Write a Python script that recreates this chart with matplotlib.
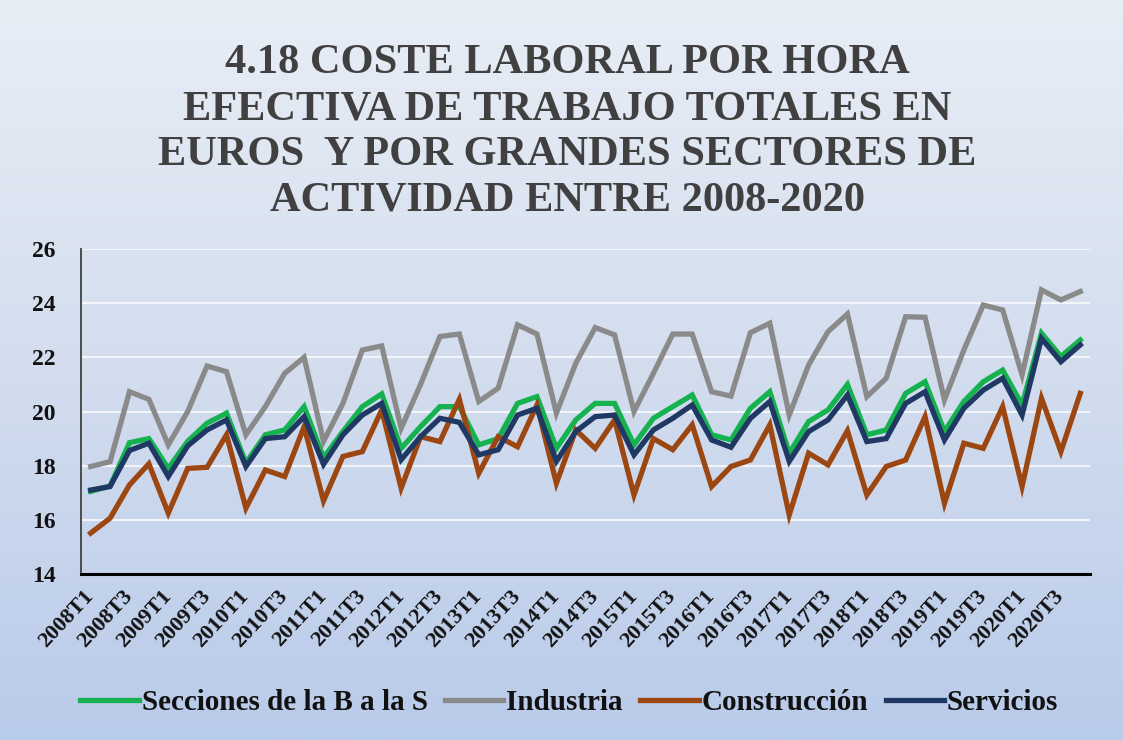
import numpy as np
import matplotlib
matplotlib.use("Agg")
import matplotlib.pyplot as plt
from matplotlib.colors import LinearSegmentedColormap

# quarters 2008T1 .. 2020T4
quarters = [f"{y}T{q}" for y in range(2008, 2021) for q in range(1, 5)]

secciones = [17.05, 17.25, 18.85, 19.0, 17.9, 18.9, 19.57, 19.94, 18.1, 19.14, 19.32, 20.18,
             18.3, 19.26, 20.18, 20.65, 18.64, 19.44, 20.18, 20.18, 18.77, 19.0, 20.3, 20.55,
             18.64, 19.69, 20.3, 20.3, 18.77, 19.75, 20.18, 20.61, 19.14, 18.95, 20.12, 20.73,
             18.46, 19.63, 20.06, 21.0, 19.14, 19.32, 20.67, 21.1, 19.26, 20.37, 21.1, 21.53,
             20.24, 22.89, 22.03, 22.64]
industria = [17.97, 18.15, 20.73, 20.45, 18.77, 20.0, 21.68, 21.47, 19.14, 20.18, 21.41, 22.0,
             18.9, 20.3, 22.27, 22.42, 19.38, 21.0, 22.77, 22.86, 20.37, 20.86, 23.2, 22.86,
             19.94, 21.78, 23.1, 22.83, 20.0, 21.41, 22.86, 22.86, 20.73, 20.57, 22.91, 23.26,
             19.87, 21.72, 22.95, 23.6, 20.55, 21.23, 23.5, 23.48, 20.43, 22.27, 23.93, 23.75,
             21.35, 24.49, 24.12, 24.43]
construccion = [15.51, 16.06, 17.29, 18.07, 16.25, 17.9, 17.94, 19.14, 16.43, 17.84, 17.6, 19.44,
                16.7, 18.34, 18.52, 20.06, 17.17, 19.07, 18.89, 20.45, 17.72, 19.07, 18.7, 20.24,
                17.35, 19.32, 18.64, 19.69, 16.92, 19.0, 18.59, 19.51, 17.23, 17.97, 18.21, 19.51,
                16.18, 18.46, 18.03, 19.29, 16.92, 17.97, 18.21, 19.81, 16.61, 18.83, 18.64, 20.18,
                17.23, 20.49, 18.52, 20.67]
servicios = [17.1, 17.23, 18.56, 18.83, 17.6, 18.73, 19.32, 19.69, 17.97, 19.0, 19.07, 19.81,
             18.05, 19.14, 19.87, 20.3, 18.22, 19.07, 19.75, 19.6, 18.4, 18.59, 19.87, 20.12,
             18.16, 19.26, 19.81, 19.87, 18.4, 19.32, 19.75, 20.24, 18.95, 18.68, 19.75, 20.37,
             18.16, 19.26, 19.69, 20.61, 18.89, 19.0, 20.3, 20.73, 18.95, 20.12, 20.79, 21.23,
             19.87, 22.7, 21.84, 22.46]

series = [
    ("Secciones de la B a la S", secciones, "#16b24f"),
    ("Industria", industria, "#8a8a8a"),
    ("Construcción", construccion, "#9c4711"),
    ("Servicios", servicios, "#1f3864"),
]

title = ("4.18 COSTE LABORAL POR HORA\n"
         "EFECTIVA DE TRABAJO TOTALES EN\n"
         "EUROS  Y POR GRANDES SECTORES DE\n"
         "ACTIVIDAD ENTRE 2008-2020")

plt.rcParams['font.family'] = ['Liberation Serif', 'DejaVu Serif']
plt.rcParams['font.weight'] = 'bold'

fig = plt.figure(figsize=(11.23, 7.40), dpi=100)

# gradient background
bg = fig.add_axes([0, 0, 1, 1], zorder=-10)
grad = np.linspace(0, 1, 256).reshape(-1, 1)
cmap = LinearSegmentedColormap.from_list("bg", ["#e8eef6", "#d3ddee", "#b9cbea"])
bg.imshow(grad, aspect="auto", cmap=cmap, extent=[0, 1, 0, 1], origin="upper")
bg.axis("off")

fig.text(0.505, 0.94, title, ha="center", va="top", fontsize=30.5, fontweight="bold",
         color="#404040", linespacing=1.27)

ax = fig.add_axes([0.0721, 0.2243, 0.8985, 0.4392])
ax.set_facecolor("none")
x = np.arange(len(quarters))
for name, vals, col in series:
    ax.plot(x, vals, color=col, lw=3.8, label=name, solid_joinstyle="miter")

ax.set_ylim(14, 26)
ax.set_xlim(-0.5, len(quarters) - 0.5)
ax.set_yticks(range(14, 27, 2))
ax.yaxis.grid(True, color="white", lw=1.4, alpha=0.75)
ax.set_axisbelow(True)
ax.tick_params(axis="y", length=0, pad=18, labelsize=17)
ax.tick_params(axis="x", length=0, pad=14, labelsize=16)
ax.set_xticks(x[::2])
ax.set_xticklabels(quarters[::2], rotation=47, ha="right", va="center",
                   rotation_mode="anchor")
for lab in ax.get_xticklabels() + ax.get_yticklabels():
    lab.set_fontweight("bold")
    lab.set_color("#111111")

for s in ["top", "right"]:
    ax.spines[s].set_visible(False)
ax.spines["left"].set_color("#404040")
ax.spines["left"].set_linewidth(1.3)
ax.spines["bottom"].set_color("#000000")
ax.spines["bottom"].set_linewidth(2.2)

leg = fig.legend(loc="center", bbox_to_anchor=(0.507, 0.051), ncol=4, frameon=False,
                 fontsize=21, handlelength=2.0, handletextpad=0.1, columnspacing=0.6)
for t in leg.get_texts():
    t.set_fontweight("bold")
    t.set_color("#111111")

fig.savefig("out.png", dpi=100)
